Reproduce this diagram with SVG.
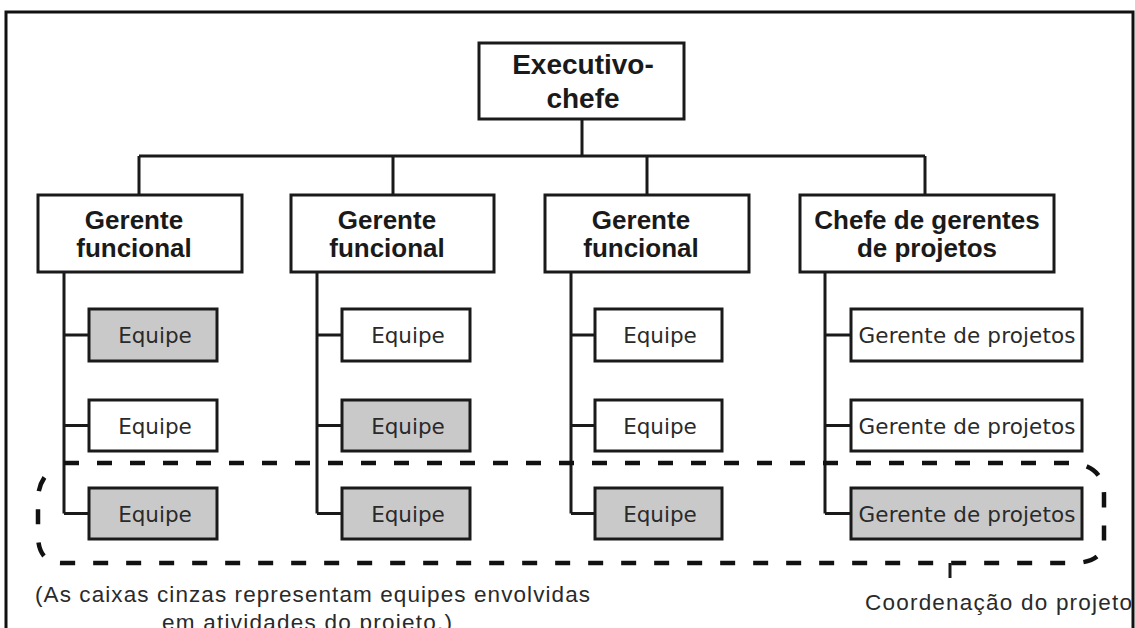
<svg xmlns="http://www.w3.org/2000/svg" width="1135" height="628" viewBox="0 0 1135 628">
<style>
.box{fill:#fff;stroke:#1a1a1a;stroke-width:3}
.gray{fill:#c9c9c9}
.ln{fill:none;stroke:#1a1a1a;stroke-width:3}
.b{font-family:"Liberation Sans",Arial,sans-serif;font-weight:bold;fill:#1a1a1a;text-anchor:middle}
.r{font-family:"DejaVu Sans","Liberation Sans",sans-serif;fill:#2a2a2a;text-anchor:middle;font-size:21.5px}
.n{font-family:"Liberation Sans",Arial,sans-serif;fill:#2a2a2a;font-size:22.5px}
.dash{fill:none;stroke:#111;stroke-width:4.5;stroke-dasharray:15 18}
</style>
<rect width="1135" height="628" fill="#fff"/>
<path d="M6 628 V12 H1133 V628" fill="none" stroke="#111" stroke-width="3"/>
<g id="connectors">
<path class="ln" d="M582 119 V156 M139 156 H925 M139 156 V195 M393 156 V195 M647 156 V195 M925 156 V195"/>
<path class="ln" d="M64 272 V513.5 M64 335 H89 M64 425.5 H89 M64 513.5 H89"/>
<path class="ln" d="M317 272 V513.5 M317 335 H342 M317 425.5 H342 M317 513.5 H342"/>
<path class="ln" d="M571 272 V513.5 M571 335 H595 M571 425.5 H595 M571 513.5 H595"/>
<path class="ln" d="M825 272 V513.5 M825 335 H851 M825 425.5 H851 M825 513.5 H851"/>
</g>
<g id="exec"><rect class="box" x="479" y="43" width="205" height="76"/>
<text class="b" x="583" y="74" font-size="28">Executivo-</text><text class="b" x="583" y="108" font-size="28">chefe</text></g>
<g id="gf1"><rect class="box" x="38" y="195" width="204" height="77"/>
<text class="b" x="134" y="229" font-size="26">Gerente</text><text class="b" x="134" y="257" font-size="26">funcional</text></g>
<g id="gf2"><rect class="box" x="291" y="195" width="203" height="77"/>
<text class="b" x="387" y="229" font-size="26">Gerente</text><text class="b" x="387" y="257" font-size="26">funcional</text></g>
<g id="gf3"><rect class="box" x="545" y="195" width="204" height="77"/>
<text class="b" x="641" y="229" font-size="26">Gerente</text><text class="b" x="641" y="257" font-size="26">funcional</text></g>
<g id="cgp"><rect class="box" x="800" y="195" width="254" height="77"/>
<text class="b" x="927" y="229" font-size="26">Chefe de gerentes</text><text class="b" x="927" y="257" font-size="26">de projetos</text></g>
<g id="e11"><rect class="box gray" x="89" y="309" width="128" height="52"/><text class="r" x="155" y="343">Equipe</text></g>
<g id="e12"><rect class="box" x="89" y="400" width="128" height="51"/><text class="r" x="155" y="434">Equipe</text></g>
<g id="e13"><rect class="box gray" x="89" y="488" width="128" height="51"/><text class="r" x="155" y="522">Equipe</text></g>
<g id="e21"><rect class="box" x="342" y="309" width="128" height="52"/><text class="r" x="408" y="343">Equipe</text></g>
<g id="e22"><rect class="box gray" x="342" y="400" width="128" height="51"/><text class="r" x="408" y="434">Equipe</text></g>
<g id="e23"><rect class="box gray" x="342" y="488" width="128" height="51"/><text class="r" x="408" y="522">Equipe</text></g>
<g id="e31"><rect class="box" x="595" y="309" width="127" height="52"/><text class="r" x="660" y="343">Equipe</text></g>
<g id="e32"><rect class="box" x="595" y="400" width="127" height="51"/><text class="r" x="660" y="434">Equipe</text></g>
<g id="e33"><rect class="box gray" x="595" y="488" width="127" height="51"/><text class="r" x="660" y="522">Equipe</text></g>
<g id="gp1"><rect class="box" x="851" y="309" width="231" height="52"/><text class="r" x="967" y="343" textLength="217">Gerente de projetos</text></g>
<g id="gp2"><rect class="box" x="851" y="400" width="231" height="51"/><text class="r" x="967" y="434" textLength="217">Gerente de projetos</text></g>
<g id="gp3"><rect class="box gray" x="851" y="488" width="231" height="51"/><text class="r" x="967" y="522" textLength="217">Gerente de projetos</text></g>
<g id="coordenacao">
<path class="dash" d="M64 463 H1072 Q1104 466 1104 495 V540 Q1104 563 1072 563 H62 Q38 563 38 535 V500 Q38 482 50 471"/>
<path class="ln" d="M950 563 V578"/>
<text class="n" x="865" y="610" textLength="267">Coordenação do projeto</text>
</g>
<g id="nota">
<text class="n" x="35" y="602" textLength="555">(As caixas cinzas representam equipes envolvidas</text>
<text class="n" x="162" y="630" textLength="290">em atividades do projeto.)</text>
</g>
</svg>
